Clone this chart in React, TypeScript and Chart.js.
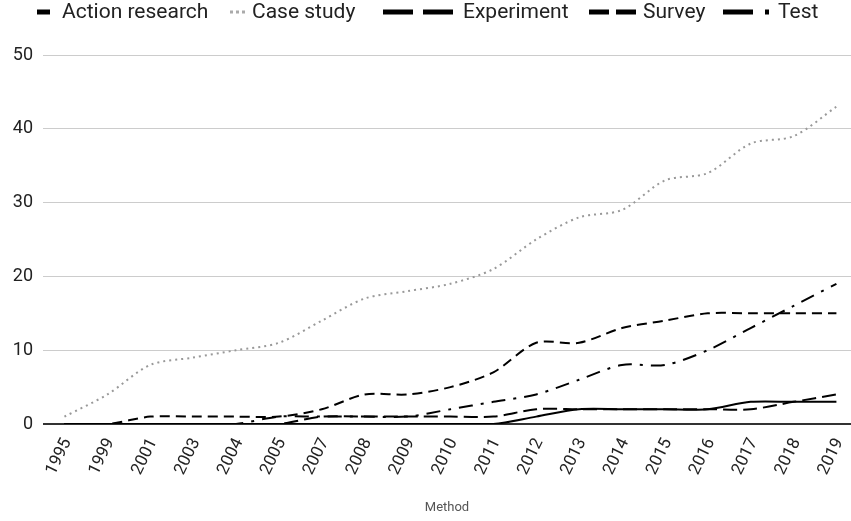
import React, { useEffect, useRef } from "react";
import { Chart, registerables } from "chart.js";

Chart.register(...registerables);

const years = ["1995","1999","2001","2003","2004","2005","2007","2008","2009","2010","2011","2012","2013","2014","2015","2016","2017","2018","2019"];
const actionResearch = [0,0,0,0,0,0,0,0,0,0,0,1,2,2,2,2,3,3,3];
const caseStudy = [1,4,8,9,10,11,14,17,18,19,21,25,28,29,33,34,38,39,43];
const experiment = [0,0,0,0,0,0,1,1,1,1,1,2,2,2,2,2,2,3,4];
const survey = [0,0,1,1,1,1,2,4,4,5,7,11,11,13,14,15,15,15,15];
const test = [0,0,0,0,0,1,1,1,1,2,3,4,6,8,8,10,13,16,19];
const yTicks = [0,10,20,30,40,50];
const xTitle = "Method";

const FONT = "Roboto, 'Noto Sans', sans-serif";

type LegendSpec = { label: string; color: string; dash: number[]; len: number; width: number; markerX: number; textX: number };
const legendSpecs: LegendSpec[] = [
  { label: "Action research", color: "#000", dash: [], len: 13, width: 5, markerX: 37, textX: 62 },
  { label: "Case study", color: "#aaa", dash: [3, 3], len: 16, width: 3, markerX: 230, textX: 252 },
  { label: "Experiment", color: "#000", dash: [30, 10], len: 70, width: 5, markerX: 383, textX: 463 },
  { label: "Survey", color: "#000", dash: [20, 7], len: 47, width: 5, markerX: 589, textX: 643 },
  { label: "Test", color: "#000", dash: [30, 12, 4, 100], len: 46, width: 5, markerX: 723, textX: 778 },
];

const legendPlugin = {
  id: "customLegend",
  afterDraw(chart: any) {
    const ctx = chart.ctx as CanvasRenderingContext2D;
    ctx.save();
    const y = 12;
    legendSpecs.forEach((s) => {
      ctx.beginPath();
      ctx.setLineDash(s.dash);
      ctx.lineCap = "butt";
      ctx.strokeStyle = s.color;
      ctx.lineWidth = s.width;
      ctx.moveTo(s.markerX, y);
      ctx.lineTo(s.markerX + s.len, y);
      ctx.stroke();
      ctx.setLineDash([]);
      ctx.fillStyle = "#222";
      ctx.font = `21px ${FONT}`;
      ctx.textBaseline = "middle";
      ctx.textAlign = "left";
      ctx.fillText(s.label, s.textX, y + 1);
    });
    ctx.restore();
  },
};

function toPoints(arr: number[]) {
  return arr.map((v, i) => ({ x: i, y: v }));
}

export default function App() {
  const ref = useRef<HTMLCanvasElement | null>(null);
  useEffect(() => {
    document.body.style.margin = "0";
    if (!ref.current) return;
    const common = { pointRadius: 0, borderWidth: 2, tension: 0.3, fill: false, borderCapStyle: "butt" as const };
    const chart = new Chart(ref.current, {
      type: "line",
      data: {
        datasets: [
          { label: "Action research", data: toPoints(actionResearch), borderColor: "#000", borderDash: [], ...common },
          { label: "Case study", data: toPoints(caseStudy), borderColor: "#999", borderDash: [2, 4], ...common },
          { label: "Experiment", data: toPoints(experiment), borderColor: "#000", borderDash: [14, 6], ...common },
          { label: "Survey", data: toPoints(survey), borderColor: "#000", borderDash: [10, 6], ...common },
          { label: "Test", data: toPoints(test), borderColor: "#000", borderDash: [14, 8, 3, 8], ...common },
        ],
      },
      options: {
        animation: false,
        responsive: true,
        maintainAspectRatio: false,
        layout: { padding: { top: 55, left: 0, right: 0, bottom: 1 } },
        plugins: { legend: { display: false }, tooltip: { enabled: false } },
        scales: {
          x: {
            type: "linear",
            min: -0.5,
            max: 18.34,
            grid: { display: false, drawTicks: false },
            border: { display: false },
            afterBuildTicks: (scale: any) => {
              scale.ticks = years.map((_, i) => ({ value: i }));
            },
            afterFit: (scale: any) => {
              scale.height = 96;
              scale.paddingLeft = 0;
              scale.paddingRight = 0;
            },
            ticks: {
              autoSkip: false,
              minRotation: 64,
              maxRotation: 64,
              padding: 11,
              labelOffset: 3,
              color: "#222",
              font: { family: FONT, size: 17 },
              callback: (v: any) => years[v as number] ?? "",
            },
            title: {
              display: true,
              text: xTitle,
              color: "#555",
              font: { family: FONT, size: 13 },
              padding: { top: 4, bottom: 4 },
            },
          },
          y: {
            min: 0,
            max: 50,
            afterBuildTicks: (scale: any) => {
              scale.ticks = yTicks.map((v) => ({ value: v }));
            },
            afterFit: (scale: any) => {
              scale.width = 43;
            },
            grid: {
              drawTicks: false,
              color: (c: any) => (c.tick && c.tick.value === 0 ? "#333" : "#ccc"),
              lineWidth: (c: any) => (c.tick && c.tick.value === 0 ? 2 : 1),
            },
            border: { display: false },
            ticks: {
              padding: 10,
              color: "#222",
              font: { family: FONT, size: 18 },
            },
          },
        },
      },
      plugins: [legendPlugin],
    });
    return () => chart.destroy();
  }, []);
  return (
    <div style={{ width: 851, height: 521, position: "relative", background: "#fff" }}>
      <canvas ref={ref} />
    </div>
  );
}
